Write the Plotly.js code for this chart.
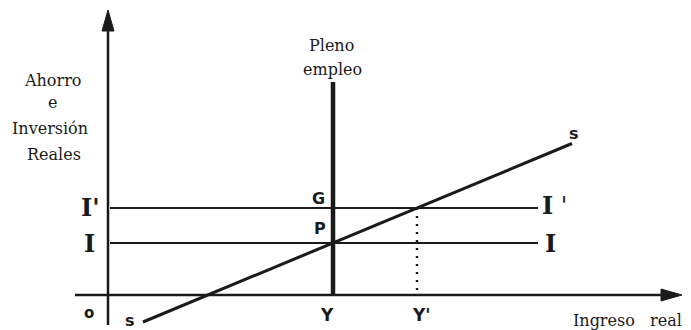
<!DOCTYPE html>
<html><head><meta charset="utf-8">
<script src="https://cdn.plot.ly/plotly-3.0.1.min.js"></script>
<style>html,body{margin:0;padding:0;background:#fff}</style>
</head><body><div id="c" style="width:691px;height:330px"></div>
<script>
// Economic coordinates (origin at the axis intersection)
const fullEmploymentY = 225;   // Y (pleno empleo)
const equilibriumY2 = 309;     // Y'
const investI = 52;            // I
const investI2 = 87;           // I'
const savingX = [35, 464];     // S line endpoints (x)
const savingY = [-27, 151.5];  // S line endpoints (y)
const iLineX = [2, 430];
const plenoY = [0, 213];
const axisX = [-33, 555];
const axisY = [-30, 268];

const ink = '#1a1a1a';
const serif = '"DejaVu Serif", "Liberation Serif", serif';
const sans = '"DejaVu Sans", "Liberation Sans", sans-serif';

const traces = [
  {x: axisX, y: [0,0], mode:'lines', line:{color:ink,width:2.5}},
  {x: [0,0], y: axisY, mode:'lines', line:{color:ink,width:2.5}},
  {x: iLineX, y: [investI2,investI2], mode:'lines', line:{color:ink,width:2}},
  {x: iLineX, y: [investI,investI], mode:'lines', line:{color:ink,width:2}},
  {x: [fullEmploymentY,fullEmploymentY], y: plenoY, mode:'lines', line:{color:ink,width:4.5}},
  {x: savingX, y: savingY, mode:'lines', line:{color:ink,width:3}},
  {x: [equilibriumY2,equilibriumY2], y: [investI2,5], mode:'lines', line:{color:ink,width:2.4,dash:'2px,6px'}}
];

const ann = (x,y,text,size,font,opts={}) => Object.assign({x,y,text,showarrow:false,xref:'x',yref:'y',
  font:{size,family:font,color:ink}}, opts);

const annotations = [
  ann(-56,215,'Ahorro',16,serif),
  ann(-56,193,'e',16,serif),
  ann(-58,167,'Inversión',16,serif),
  ann(-54,141,'Reales',16,serif),
  ann(223,250,'Pleno',16,serif),
  ann(224,226,'empleo',16,serif),
  ann(-18,investI2+1,"<b>I'</b>",24,serif),
  ann(-19,investI,'<b>I</b>',24,serif),
  ann(-19,-18,'<b>o</b>',15,sans),
  ann(22,-25,'<b>s</b>',16,sans),
  ann(210,97,'<b>G</b>',16,sans),
  ann(212,67,'<b>P</b>',16,sans),
  ann(219,-20,'<b>Y</b>',17,sans),
  ann(313,-20,"<b>Y'</b>",17,sans),
  ann(466,162,'<b>s</b>',16,sans),
  ann(446,investI2+3,"<b>I</b> '",24,serif),
  ann(442,investI,'<b>I</b>',24,serif),
  ann(519,-25,'Ingreso&nbsp;&nbsp;&nbsp;real',16,serif)
];

const shapes = [
  {type:'path', xref:'x', yref:'y', path:'M 0 285 L -6 264 L 6 264 Z', fillcolor:ink, line:{color:ink,width:1}},
  {type:'path', xref:'x', yref:'y', path:'M 574 0 L 553 -6 L 553 6 Z', fillcolor:ink, line:{color:ink,width:1}}
];

const layout = {
  width:691, height:330, margin:{l:0,r:0,t:0,b:0},
  paper_bgcolor:'#fff', plot_bgcolor:'#fff', showlegend:false,
  xaxis:{range:[-108,583], visible:false, fixedrange:true},
  yaxis:{range:[-35,295], visible:false, fixedrange:true},
  annotations, shapes
};
Plotly.newPlot('c', traces, layout, {displayModeBar:false, staticPlot:true});
</script></body></html>
